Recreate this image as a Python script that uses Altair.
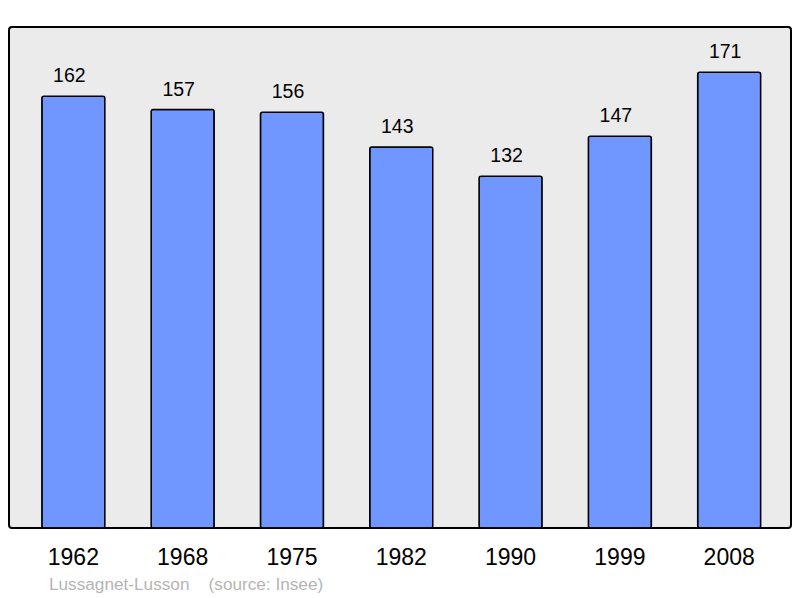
import altair as alt
import pandas as pd

years = ["1962", "1968", "1975", "1982", "1990", "1999", "2008"]
population = [162, 157, 156, 143, 132, 147, 171]

df = pd.DataFrame({"year": years, "pop": population})

FONT = "Liberation Sans"

x = alt.X(
    "year:N",
    sort=years,
    scale=alt.Scale(paddingInner=0.4236, paddingOuter=0.289, align=0.52),
    axis=alt.Axis(
        title=None,
        labelAngle=0,
        labelFontSize=23,
        labelFont=FONT,
        labelColor="#000000",
        labelPadding=18,
        ticks=False,
        domain=False,
        grid=False,
    ),
)
y = alt.Y(
    "pop:Q",
    scale=alt.Scale(domain=[0, 188], nice=False, zero=True),
    axis=None,
)

bars = alt.Chart(df).mark_bar(
    color="#7096ff",
    stroke="#000000",
    strokeWidth=1.5,
    cornerRadius=2,
).encode(x=x, y=y)

labels = alt.Chart(df).mark_text(
    baseline="alphabetic",
    dy=-14,
    dx=-4,
    fontSize=19.5,
    font=FONT,
    color="#000000",
).encode(x=x, y=y, text="pop:Q")

chart = (
    alt.layer(bars, labels)
    .properties(
        width=782,
        height=501,
        autosize=alt.AutoSizeParams(type="none"),
        padding={"left": 1, "top": 19, "right": 1, "bottom": 72},
        background="#ffffff",
        title=alt.TitleParams(
            text="Lussagnet-Lusson\u00a0\u00a0\u00a0\u00a0(source: Insee)",
            orient="bottom",
            anchor="start",
            dx=40,
            offset=7,
            fontSize=17.2,
            font=FONT,
            fontWeight="normal",
            color="#b5b5b5",
        ),
    )
    .configure_view(
        fill="#ebebeb",
        stroke="#000000",
        strokeWidth=2,
        cornerRadius=3,
    )
)

chart.save("out.html", embed_options={"renderer": "svg", "actions": False})
